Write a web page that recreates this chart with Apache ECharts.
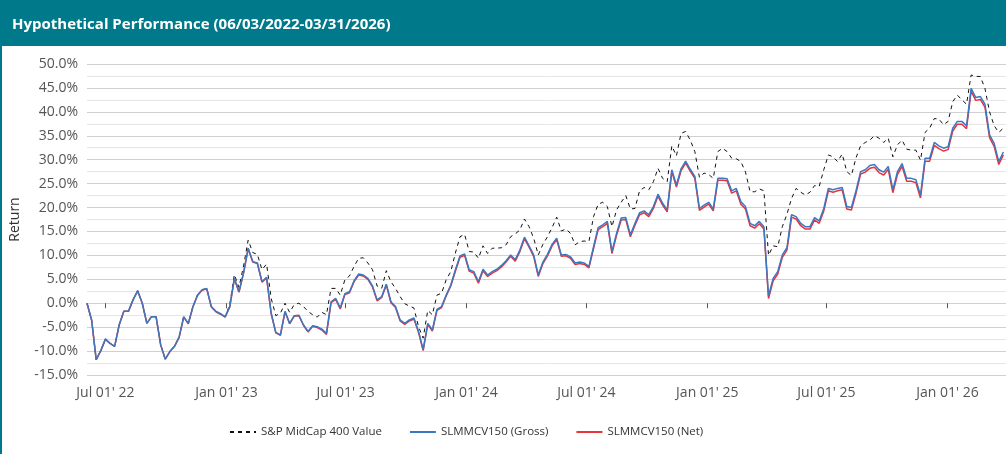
<!DOCTYPE html>
<html>
<head>
<meta charset="utf-8">
<script src="https://cdn.jsdelivr.net/npm/echarts@6/dist/echarts.min.js"></script>
<style>
  html, body { margin: 0; padding: 0; background: #fff; }
  #main { width: 1006px; height: 454px; }
</style>
</head>
<body>
<div id="main"></div>
<script>
// weekly closes, first one on 06/03/2022
const firstWeek = [2022, 5, 3];
const rangeStart = [2022, 5, 3];
const rangeEnd = [2026, 2, 31];

const tickDates = [[2022, 6, 1], [2023, 0, 1], [2023, 6, 1], [2024, 0, 1], [2024, 6, 1], [2025, 0, 1], [2025, 6, 1], [2026, 0, 1]];
const tickLabels = ["Jul 01' 22", "Jan 01' 23", "Jul 01' 23", "Jan 01' 24", "Jul 01' 24", "Jan 01' 25", "Jul 01' 25", "Jan 01' 26"];

const indexValues = [
  0, -3.5, -11.8, -9.9, -7.5, -8.4, -9.0, -4.5, -1.7, -1.7, 0.7, 2.6, 0.0, -4.2, -2.8, -2.8, -8.7, -11.7, -10.1, -9.0,
  -7.1, -2.8, -4.2, -0.7, 1.7, 2.8, 3.1, -0.7, -1.7, -2.2, -2.8, -0.3, 6.0, 3.3, 7.8, 13.2, 10.6, 10.2, 7.0, 8.2,
  1.0, -2.6, -2.1, 0.0, -1.9, -0.3, 0.0, -0.7, -1.7, -2.4, -2.9, -1.9, -2.4, 3.1, 3.1, 1.7, 4.9, 5.7, 7.7, 9.4,
  9.5, 8.4, 7.0, 3.6, 3.1, 6.8, 4.5, 3.1, 1.4, -0.1, -0.6, -1.0, -4.9, -7.3, -1.5, -2.4, 1.7, 2.1, 4.9, 6.6,
  10.5, 13.9, 14.4, 10.8, 10.7, 9.4, 12.0, 10.4, 11.5, 11.5, 11.6, 12.2, 13.9, 14.5, 15.3, 17.6, 16.0, 13.6, 10.1, 12.3,
  13.9, 15.8, 18.0, 15.1, 15.5, 14.6, 12.2, 12.9, 13.0, 12.9, 18.1, 20.7, 21.1, 20.2, 16.0, 19.5, 21.1, 22.5, 19.7, 19.8,
  23.5, 24.2, 23.7, 25.4, 28.2, 26.1, 25.4, 32.9, 30.8, 35.5, 35.9, 34.1, 31.7, 26.3, 27.2, 26.9, 26.1, 31.7, 32.4, 31.7,
  30.3, 30.2, 29.6, 27.4, 23.3, 23.3, 23.9, 23.5, 10.0, 12.0, 11.8, 16.0, 18.6, 21.9, 24.0, 23.2, 22.6, 23.2, 24.6, 24.4,
  27.9, 31.0, 30.6, 29.6, 31.2, 27.5, 26.7, 30.4, 32.9, 33.6, 34.1, 35.0, 34.5, 33.6, 34.5, 30.6, 33.1, 34.1, 32.2, 32.0,
  32.0, 29.9, 35.7, 36.6, 38.6, 38.5, 37.3, 38.0, 42.1, 43.5, 42.5, 41.6, 47.7, 47.4, 47.4, 44.9, 40.0, 37.1, 35.7, 36.6
];

const grossValues = [
  0, -3.5, -11.8, -9.9, -7.5, -8.4, -9.0, -4.5, -1.7, -1.7, 0.7, 2.6, 0.0, -4.2, -2.8, -2.8, -8.7, -11.7, -10.1, -9.0,
  -7.1, -2.8, -4.2, -0.7, 1.7, 2.8, 3.1, -0.7, -1.7, -2.2, -2.8, -0.7, 5.2, 2.4, 6.4, 11.5, 8.7, 8.4, 4.5, 5.4,
  -2.1, -6.1, -6.6, -1.7, -4.2, -2.6, -2.5, -4.5, -5.9, -4.7, -4.9, -5.4, -6.3, 0.3, 1.0, -1.0, 2.0, 2.4, 4.7, 6.1,
  5.9, 5.2, 3.6, 0.7, 1.4, 4.0, 0.3, -0.7, -3.5, -4.2, -3.5, -3.1, -5.9, -9.7, -4.2, -5.6, -1.3, -0.7, 1.7, 3.8,
  7.0, 9.9, 10.3, 7.0, 6.6, 4.5, 7.1, 5.9, 6.6, 7.1, 7.9, 8.9, 10.1, 9.1, 11.1, 13.8, 12.0, 10.1, 5.9, 8.6,
  10.2, 12.3, 13.6, 10.1, 10.2, 9.7, 8.4, 8.6, 8.4, 7.7, 11.8, 15.8, 16.4, 17.1, 10.8, 14.6, 17.8, 17.9, 14.3, 16.7,
  18.9, 19.3, 18.5, 20.2, 22.8, 20.9, 19.5, 27.9, 24.7, 28.1, 29.7, 28.0, 26.5, 19.8, 20.5, 21.1, 19.7, 26.1, 26.1, 26.0,
  23.5, 24.0, 21.2, 20.2, 16.7, 16.2, 17.1, 16.0, 1.5, 5.2, 6.6, 10.1, 11.6, 18.5, 18.1, 16.7, 16.0, 16.0, 17.9, 17.2,
  19.8, 24.0, 23.7, 24.0, 24.2, 20.2, 20.0, 23.5, 27.5, 27.9, 28.8, 29.0, 27.9, 27.4, 28.6, 23.7, 27.5, 29.2, 26.1, 26.1,
  25.8, 22.6, 30.3, 30.3, 33.6, 32.9, 32.4, 32.7, 36.6, 38.0, 38.0, 37.1, 44.9, 43.0, 43.2, 41.6, 35.2, 33.4, 29.6, 31.6
];

const netValues = [
  0, -3.5, -11.8, -9.9, -7.5, -8.4, -9.0, -4.5, -1.7, -1.7, 0.7, 2.6, 0.0, -4.2, -2.8, -2.8, -8.7, -11.7, -10.1, -9.0,
  -7.2, -2.9, -4.3, -0.8, 1.6, 2.7, 3.0, -0.8, -1.8, -2.3, -2.9, -0.8, 5.1, 2.3, 6.3, 11.4, 8.6, 8.3, 4.4, 5.3,
  -2.2, -6.2, -6.7, -1.8, -4.3, -2.7, -2.6, -4.6, -6.0, -4.8, -5.1, -5.6, -6.5, 0.1, 0.8, -1.2, 1.8, 2.2, 4.5, 5.9,
  5.7, 5.0, 3.4, 0.5, 1.2, 3.8, 0.1, -0.9, -3.7, -4.4, -3.7, -3.3, -6.1, -9.9, -4.4, -5.8, -1.5, -0.9, 1.5, 3.6,
  6.7, 9.6, 10.0, 6.7, 6.3, 4.2, 6.8, 5.6, 6.3, 6.8, 7.6, 8.6, 9.8, 8.8, 10.8, 13.5, 11.7, 9.8, 5.6, 8.3,
  9.9, 12.0, 13.3, 9.8, 9.9, 9.4, 8.1, 8.3, 8.1, 7.4, 11.4, 15.4, 16.0, 16.7, 10.4, 14.2, 17.4, 17.5, 13.9, 16.3,
  18.5, 18.9, 18.1, 19.8, 22.4, 20.5, 19.1, 27.5, 24.3, 27.7, 29.3, 27.6, 26.1, 19.4, 20.1, 20.7, 19.3, 25.7, 25.7, 25.6,
  23.0, 23.5, 20.7, 19.7, 16.2, 15.7, 16.6, 15.5, 1.0, 4.7, 6.1, 9.6, 11.1, 18.0, 17.6, 16.2, 15.5, 15.5, 17.4, 16.7,
  19.3, 23.5, 23.2, 23.5, 23.7, 19.7, 19.5, 23.0, 27.0, 27.4, 28.2, 28.4, 27.3, 26.8, 28.0, 23.1, 26.9, 28.6, 25.5, 25.5,
  25.2, 22.0, 29.7, 29.7, 33.0, 32.3, 31.8, 32.1, 36.0, 37.4, 37.4, 36.5, 44.3, 42.4, 42.6, 41.0, 34.6, 32.8, 29.0, 31.0
];

const fontFamily = "'Open Sans', 'Noto Sans', sans-serif";
const teal = "#007a8a";

const weekTime = (i) => new Date(firstWeek[0], firstWeek[1], firstWeek[2] + 7 * i).getTime();
const toTime = (d) => new Date(d[0], d[1], d[2]).getTime();
const tickTimes = tickDates.map(toTime);
const pairs = (vals) => vals.map((v, i) => [weekTime(i), v]);

const chart = echarts.init(document.getElementById("main"), null, { renderer: "canvas" });

const option = {
  animation: false,
  backgroundColor: "#fff",
  textStyle: { fontFamily: fontFamily },
  graphic: [
    { type: "rect", z: -10, shape: { x: 0, y: 0, width: 1006, height: 46 }, style: { fill: teal } },
    { type: "rect", z: -10, shape: { x: 0, y: 46, width: 2, height: 408 }, style: { fill: teal } }
  ],
  title: {
    text: "Hypothetical Performance (06/03/2022-03/31/2026)",
    left: 7,
    top: 12,
    textStyle: { color: "#fff", fontSize: 15, fontWeight: "bold", fontFamily: fontFamily }
  },
  legend: {
    left: 224,
    top: 421,
    itemWidth: 26,
    itemHeight: 14,
    itemGap: 27,
    itemStyle: { opacity: 0 },
    textStyle: { fontSize: 11.5, color: "#333", fontFamily: fontFamily },
    data: ["S&P MidCap 400 Value", "SLMMCV150 (Gross)", "SLMMCV150 (Net)"]
  },
  grid: { left: 84, top: 64, width: 926, height: 311, containLabel: false },
  xAxis: {
    type: "value",
    min: toTime(rangeStart),
    max: toTime(rangeEnd),
    axisLine: { show: false },
    axisTick: { show: true, customValues: tickTimes, length: 5, lineStyle: { color: "#555", width: 1 } },
    axisLabel: {
      customValues: tickTimes,
      margin: 11,
      fontSize: 14,
      color: "#555",
      fontFamily: fontFamily,
      formatter: (val) => {
        const i = tickTimes.indexOf(val);
        return i >= 0 ? tickLabels[i] : "";
      }
    },
    splitLine: { show: false }
  },
  yAxis: {
    type: "value",
    min: -15,
    max: 50,
    interval: 5,
    name: "Return",
    nameLocation: "middle",
    nameRotate: 90,
    nameGap: 65,
    nameTextStyle: { fontSize: 14, color: "#333", fontFamily: fontFamily },
    axisLine: { show: false },
    axisTick: { show: false },
    axisLabel: {
      margin: 9,
      fontSize: 14,
      color: "#555",
      fontFamily: fontFamily,
      formatter: (v) => v.toFixed(1) + "%"
    },
    splitLine: { show: true, lineStyle: { color: "#d0d0d0", width: 1 } },
    minorTick: { show: false, splitNumber: 2 },
    minorSplitLine: { show: true, lineStyle: { color: "#e6e6e6", width: 1 } }
  },
  series: [
    {
      name: "S&P MidCap 400 Value",
      type: "line",
      data: pairs(indexValues),
      symbol: "none",
      showSymbol: false,
      itemStyle: { color: "#111" },
      lineStyle: { color: "#111", width: 1, type: [4, 4] }
    },
    {
      name: "SLMMCV150 (Net)",
      type: "line",
      data: pairs(netValues),
      symbol: "none",
      showSymbol: false,
      itemStyle: { color: "#e8323c" },
      lineStyle: { color: "#e8323c", width: 1.5 }
    },
    {
      name: "SLMMCV150 (Gross)",
      type: "line",
      data: pairs(grossValues),
      symbol: "none",
      showSymbol: false,
      itemStyle: { color: "#3a78c2" },
      lineStyle: { color: "#3a78c2", width: 1.5 }
    }
  ]
};

chart.setOption(option);
</script>
</body>
</html>
